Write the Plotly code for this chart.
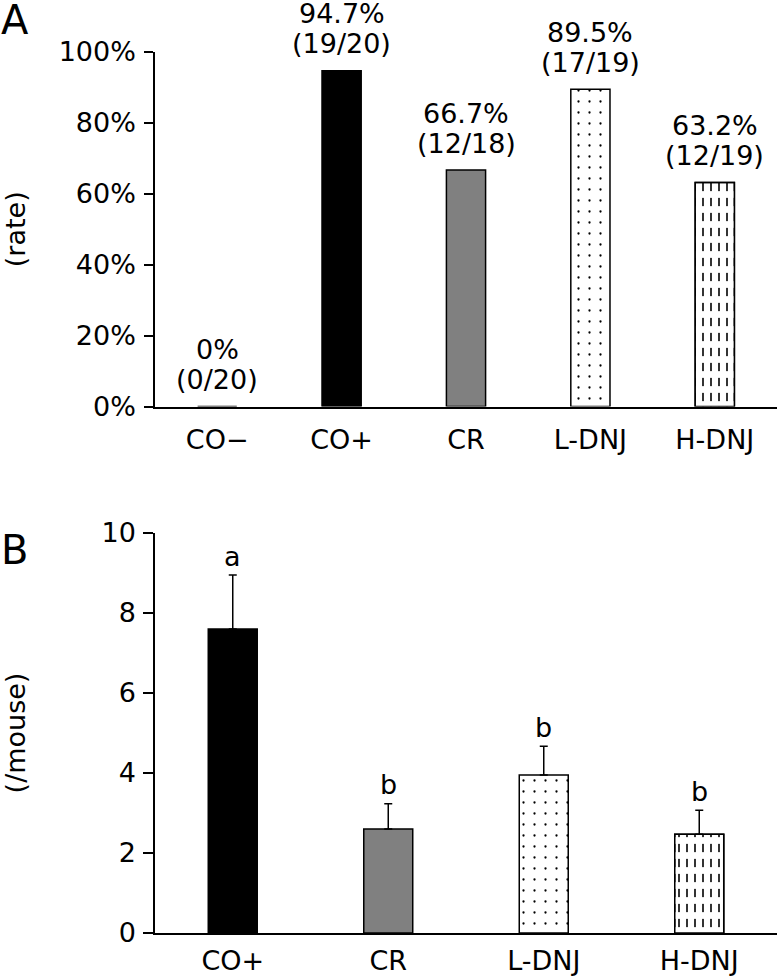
import plotly.graph_objects as go

# ---- data ----
cats_a = ["CO\u2212", "CO+", "CR", "L-DNJ", "H-DNJ"]
rate_a = [0, 94.7, 66.7, 89.5, 63.2]
counts_a = ["(0/20)", "(19/20)", "(12/18)", "(17/19)", "(12/19)"]
ticks_a = [0, 20, 40, 60, 80, 100]

cats_b = ["CO+", "CR", "L-DNJ", "H-DNJ"]
mean_b = [7.6, 2.6, 3.95, 2.47]
err_b = [1.35, 0.63, 0.72, 0.6]
letters_b = ["a", "b", "b", "b"]
ticks_b = [0, 2, 4, 6, 8, 10]

# ---- styles per group ----
style = {
    "CO\u2212": dict(fill="white", shape="", size=8, solid=0, dash=False),
    "CO+": dict(fill="black", shape="", size=8, solid=0, dash=False),
    "CR": dict(fill="#808080", shape="", size=8, solid=0, dash=False),
    "L-DNJ": dict(fill="white", shape=".", size=11, solid=0.033, dash=False),
    "H-DNJ": dict(fill="white", shape="|", size=8, solid=0.2, dash=True),
}
FONT = "DejaVu Sans"
FS = 27
LW = 1.5

fig = go.Figure()


def add_bars(cats, vals, xa, ya, errs=None):
    for i, (c, v) in enumerate(zip(cats, vals)):
        s = style[c]
        pat = dict(shape=s["shape"], fgcolor="black", bgcolor=s["fill"],
                   size=s["size"], solidity=s["solid"], fillmode="replace") if s["shape"] else None
        tr = go.Bar(
            x=[c], y=[v], xaxis=xa, yaxis=ya, showlegend=False, hoverinfo="skip",
            marker=dict(color=s["fill"], line=dict(width=LW, color="black"), pattern=pat),
            cliponaxis=False,
        )
        if errs is not None:
            tr.error_y = dict(type="data", array=[errs[i]], arrayminus=[0],
                              symmetric=False, color="black", thickness=LW, width=4)
        fig.add_trace(tr)
        if s["dash"]:
            # white horizontal bands break the vertical lines into dashes
            fig.add_trace(go.Bar(
                x=[c], y=[v], xaxis=xa, yaxis=ya, showlegend=False, hoverinfo="skip",
                marker=dict(color="rgba(0,0,0,0)", line=dict(width=LW, color="black"),
                            pattern=dict(shape="-", fgcolor="white", bgcolor="rgba(0,0,0,0)",
                                         size=15, solidity=0.45, fillmode="replace")),
                cliponaxis=False,
            ))


add_bars(cats_a, rate_a, "x", "y")
add_bars(cats_b, mean_b, "x2", "y2", err_b)

tfont = dict(size=FS, family=FONT, color="black")
annotations = []
for c, v, n in zip(cats_a, rate_a, counts_a):
    annotations.append(dict(x=c, y=v, xref="x", yref="y", text=f"{v:g}%",
                            showarrow=False, yanchor="middle", yshift=57, font=tfont))
    annotations.append(dict(x=c, y=v, xref="x", yref="y", text=n,
                            showarrow=False, yanchor="middle", yshift=27, font=tfont))
for c, v, e, l in zip(cats_b, mean_b, err_b, letters_b):
    annotations.append(dict(x=c, y=v + e, xref="x2", yref="y2", text=l,
                            showarrow=False, yanchor="middle", yshift=19, font=tfont))
annotations.append(dict(x=-155 / 622, y=1 - 20 / 977, xref="paper", yref="paper", text="A",
                        showarrow=False, xanchor="left", yanchor="middle", borderpad=0,
                        font=dict(size=40, family=FONT, color="black")))
annotations.append(dict(x=-155 / 622, y=1 - 550 / 977, xref="paper", yref="paper", text="B",
                        showarrow=False, xanchor="left", yanchor="middle", borderpad=0,
                        font=dict(size=40, family=FONT, color="black")))

axis_common = dict(showline=True, linecolor="black", linewidth=LW, showgrid=False,
                   zeroline=False, automargin=False, tickfont=tfont)

fig.update_layout(
    width=777, height=977,
    margin=dict(l=155, r=0, t=0, b=0, autoexpand=False),
    paper_bgcolor="white", plot_bgcolor="white",
    font=dict(family=FONT, size=FS, color="black"),
    barmode="overlay", bargap=0.685,
    annotations=annotations,
    xaxis=dict(domain=[0, 1], anchor="y", ticks="", ticklabelstandoff=8, **axis_common),
    yaxis=dict(domain=[1 - 406.5 / 977, 1 - 52 / 977], anchor="x", range=[0, 100],
               tickvals=ticks_a, ticktext=[f"{t}%" for t in ticks_a],
               ticks="outside", ticklen=9, tickwidth=LW, tickcolor="black",
               ticklabelstandoff=3,
               title=dict(text="(rate)", standoff=27, font=tfont),
               **axis_common),
    xaxis2=dict(domain=[0, 1], anchor="y2", ticks="", ticklabelstandoff=3, **axis_common),
    yaxis2=dict(domain=[1 - 933 / 977, 1 - 533 / 977], anchor="x2", range=[0, 10],
                tickvals=ticks_b, ticks="outside", ticklen=10, tickwidth=LW, tickcolor="black",
                ticklabelstandoff=2,
                title=dict(text="(/mouse)", standoff=70, font=tfont),
                **axis_common),
)

fig.write_html(
    "out.html",
    config={"displayModeBar": False},
    post_script="document.body.style.margin='0';document.body.style.overflow='hidden';",
)
